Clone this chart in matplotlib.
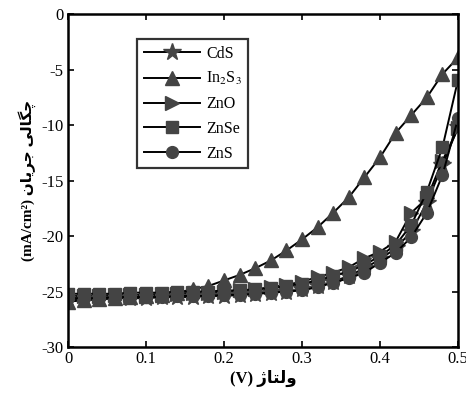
"""J-V curves for different buffer layers (Persian labels)."""

import matplotlib

matplotlib.use("Agg")

import matplotlib.pyplot as plt
from matplotlib.ticker import FuncFormatter

voltage = [0.00, 0.02, 0.04, 0.06, 0.08, 0.10, 0.12, 0.14, 0.16, 0.18, 0.20, 0.22, 0.24,
           0.26, 0.28, 0.30, 0.32, 0.34, 0.36, 0.38, 0.40, 0.42, 0.44, 0.46, 0.48, 0.50]

cds = [-25.7, -25.7, -25.7, -25.6, -25.6, -25.6, -25.5, -25.5, -25.5, -25.4, -25.4, -25.3, -25.2,
       -25.1, -25.0, -24.8, -24.5, -24.1, -23.6, -22.9, -22.1, -21.1, -19.6, -17.0, -13.6, -10.2]
in2s3 = [-25.9, -25.8, -25.7, -25.6, -25.5, -25.4, -25.3, -25.1, -24.8, -24.5, -24.0, -23.5, -22.9,
         -22.2, -21.3, -20.3, -19.2, -17.9, -16.5, -14.7, -12.9, -10.7, -9.1, -7.5, -5.4, -3.9]
zno = [-25.4, -25.4, -25.4, -25.3, -25.3, -25.3, -25.2, -25.2, -25.1, -25.1, -25.0, -24.9, -24.8,
       -24.6, -24.4, -24.1, -23.7, -23.3, -22.8, -22.0, -21.4, -20.5, -17.9, -16.6, -13.2, -10.3]
znse = [-25.2, -25.2, -25.2, -25.2, -25.1, -25.1, -25.1, -25.0, -25.0, -25.0, -24.9, -24.9, -24.8,
        -24.7, -24.5, -24.3, -24.0, -23.6, -23.2, -22.6, -21.8, -20.8, -19.0, -16.0, -12.0, -5.9]
zns = [-25.6, -25.6, -25.6, -25.5, -25.5, -25.5, -25.5, -25.4, -25.4, -25.4, -25.3, -25.3, -25.2,
       -25.1, -25.0, -24.9, -24.6, -24.2, -23.8, -23.3, -22.4, -21.5, -20.1, -17.9, -14.5, -9.4]

series = [
    ("CdS", cds, "*", 13),
    ("In$_2$S$_3$", in2s3, "^", 10),
    ("ZnO", zno, ">", 10),
    ("ZnSe", znse, "s", 8.5),
    ("ZnS", zns, "o", 8.5),
]

x_ticks = [0, 0.1, 0.2, 0.3, 0.4, 0.5]
y_ticks = [-30, -25, -20, -15, -10, -5, 0]

# Persian labels, pre-shaped into presentation forms in visual order
xlabel = "(V) \uFB8A\uFE8E\uFE98\uFEDF\uFEED"
ylabel = ("(mA/cm\u00b2) \uFEE5\uFE8E\uFBFE\uFEAE\uFE9F "
          "\uFBFD\uFEDF\uFE8E\uFB95\uFB7C")

plt.rcParams["font.family"] = ["Liberation Serif", "DejaVu Sans"]
plt.rcParams["mathtext.fontset"] = "stix"

fig = plt.figure(figsize=(4.66, 3.93), dpi=100)
ax = fig.add_axes([0.146, 0.117, 0.837, 0.847])

for name, vals, mk, ms in series:
    ax.plot(voltage, vals, color="black", lw=1.4, marker=mk, markersize=ms,
            markerfacecolor="#444444", markeredgecolor="#444444", label=name)

ax.set_xlim(0, 0.5)
ax.set_ylim(-30, 0)
ax.set_xticks(x_ticks)
ax.set_yticks(y_ticks)
ax.xaxis.set_major_formatter(FuncFormatter(lambda v, p: f"{v:g}"))
ax.yaxis.set_major_formatter(FuncFormatter(lambda v, p: f"{v:g}".replace("\u2212", "-")))
ax.tick_params(direction="in", length=4, width=1.2, top=True, right=True,
               labelsize=12, pad=3)
for sp in ax.spines.values():
    sp.set_linewidth(1.8)

ax.set_xlabel(xlabel, fontsize=12, fontweight="bold",
              family=["Liberation Serif", "DejaVu Sans"], labelpad=2)
ax.set_ylabel(ylabel, fontsize=11, fontweight="bold",
              family=["Liberation Serif", "DejaVu Sans"], labelpad=4)

leg = ax.legend(loc="upper left", bbox_to_anchor=(0.178, 0.925), fontsize=11.5,
                frameon=True, fancybox=False, edgecolor="black", handlelength=3.5,
                borderpad=0.4, labelspacing=0.55, handletextpad=0.4,
                borderaxespad=0)
leg.get_frame().set_linewidth(1.6)

fig.savefig("out.png", dpi=100)
